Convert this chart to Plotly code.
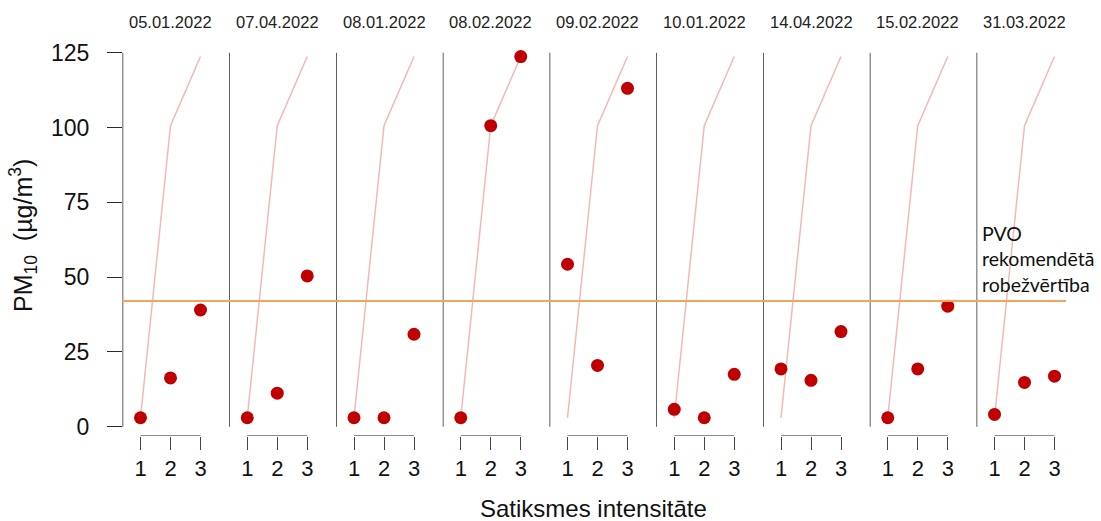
import plotly.graph_objects as go

# --- data -------------------------------------------------------------
dates = ["05.01.2022", "07.04.2022", "08.01.2022", "08.02.2022", "09.02.2022",
         "10.01.2022", "14.04.2022", "15.02.2022", "31.03.2022"]
intensity = [1, 2, 3]

pm10_050122 = [3.0, 16.3, 39.0]
pm10_070422 = [3.0, 11.2, 50.4]
pm10_080122 = [3.0, 3.0, 30.9]
pm10_080222 = [3.0, 100.6, 123.7]
pm10_090222 = [54.3, 20.5, 113.1]
pm10_100122 = [5.8, 3.0, 17.5]
pm10_140422 = [19.3, 15.5, 31.8]
pm10_150222 = [3.0, 19.3, 40.3]
pm10_310322 = [4.1, 14.8, 16.9]

series = [pm10_050122, pm10_070422, pm10_080122, pm10_080222, pm10_090222,
          pm10_100122, pm10_140422, pm10_150222, pm10_310322]

# the highest day is echoed in every panel as a faint reference line
reference_line = pm10_080222

who_limit = 42
y_ticks = [0, 25, 50, 75, 100, 125]
x_ticks = [1, 2, 3]

# --- geometry (pixels) ------------------------------------------------
W, H = 1101, 521
left0 = 122.5          # left edge of the first panel
panel_w = 106.75       # width of each panel
x_lo = 0.4
x_hi = x_lo + panel_w / 30.0
plot_top, plot_bot = 43.7, 435.7
y_lo, y_hi = -3, 128

def px(x):
    return x / W

def py(y):
    return (H - y) / H

FONT = "Liberation Sans, Arial, sans-serif"
RED = "#C00000"
PINK = "#F4B7B7"
ORANGE = "#F4A460"
AXIS = "#2a2a2a"

fig = go.Figure()
shapes = []
annotations = []

for k, (date, vals) in enumerate(zip(dates, series)):
    xa = "x" if k == 0 else f"x{k + 1}"
    axname = "xaxis" if k == 0 else f"xaxis{k + 1}"

    fig.add_trace(go.Scatter(
        x=intensity, y=reference_line, mode="lines",
        line=dict(color=PINK, width=1.5), xaxis=xa, yaxis="y",
        hoverinfo="skip", showlegend=False))
    fig.add_trace(go.Scatter(
        x=intensity, y=vals, mode="markers",
        marker=dict(color=RED, size=13), xaxis=xa, yaxis="y",
        showlegend=False, name=date))

    d0 = left0 + k * panel_w
    fig.update_layout(**{axname: dict(
        domain=[px(d0), px(d0 + panel_w)],
        range=[x_lo, x_hi], anchor="y",
        tickvals=x_ticks, ticktext=[str(t) for t in x_ticks],
        ticks="outside", ticklen=13, tickwidth=1, tickcolor="#444444",
        ticklabelstandoff=0,
        tickfont=dict(family=FONT, size=22, color="#111111"),
        showline=False, showgrid=False, zeroline=False, fixedrange=True,
    )})

    # left axis / panel divider, spanning 0..125
    shapes.append(dict(type="line", xref=xa, yref="y",
                       x0=x_lo, x1=x_lo, y0=y_ticks[0], y1=y_ticks[-1],
                       line=dict(color=AXIS, width=1.5)))
    # x-axis bracket across the three intensity levels
    shapes.append(dict(type="line", xref=xa, yref="y",
                       x0=x_ticks[0], x1=x_ticks[-1], y0=y_lo, y1=y_lo,
                       line=dict(color="#444444", width=1)))

    annotations.append(dict(
        text=date, xref=xa, yref="paper", x=2, y=py(22),
        xanchor="center", yanchor="middle", showarrow=False,
        font=dict(family=FONT, size=16.5, color="#222222")))

# WHO guideline line across all panels
shapes.append(dict(type="line", xref="paper", yref="y",
                   x0=px(left0), x1=px(1066), y0=who_limit, y1=who_limit,
                   line=dict(color=ORANGE, width=2)))

annotations.append(dict(
    text="PVO<br>rekomendētā<br>robežvērtība", xref="paper", yref="paper",
    x=px(980), y=py(259), xanchor="left", yanchor="middle", align="left",
    showarrow=False, font=dict(family="Lato, sans-serif", size=19.5, color="#111111")))

annotations.append(dict(
    text="PM<sub>10</sub>  (µg/m<sup>3</sup>)", xref="paper", yref="paper",
    x=px(23), y=py(236), xanchor="center", yanchor="middle", textangle=-90,
    showarrow=False, font=dict(family=FONT, size=25, color="#111111")))

annotations.append(dict(
    text="Satiksmes intensitāte", xref="paper", yref="paper",
    x=px(593), y=py(508), xanchor="center", yanchor="middle", borderpad=0,
    showarrow=False, font=dict(family=FONT, size=24, color="#111111")))

fig.update_layout(
    width=W, height=H,
    margin=dict(l=0, r=0, t=0, b=0),
    paper_bgcolor="white", plot_bgcolor="white",
    showlegend=False,
    yaxis=dict(
        domain=[py(plot_bot), py(plot_top)], range=[y_lo, y_hi],
        anchor="x", tickvals=y_ticks, ticks="outside", ticklen=14.5,
        tickwidth=1, tickcolor=AXIS, ticklabelstandoff=13,
        tickfont=dict(family=FONT, size=23, color="#111111"),
        showline=False, showgrid=False, zeroline=False, fixedrange=True,
        automargin=False,
    ),
    shapes=shapes,
    annotations=annotations,
)

fig.write_html("out.html")
